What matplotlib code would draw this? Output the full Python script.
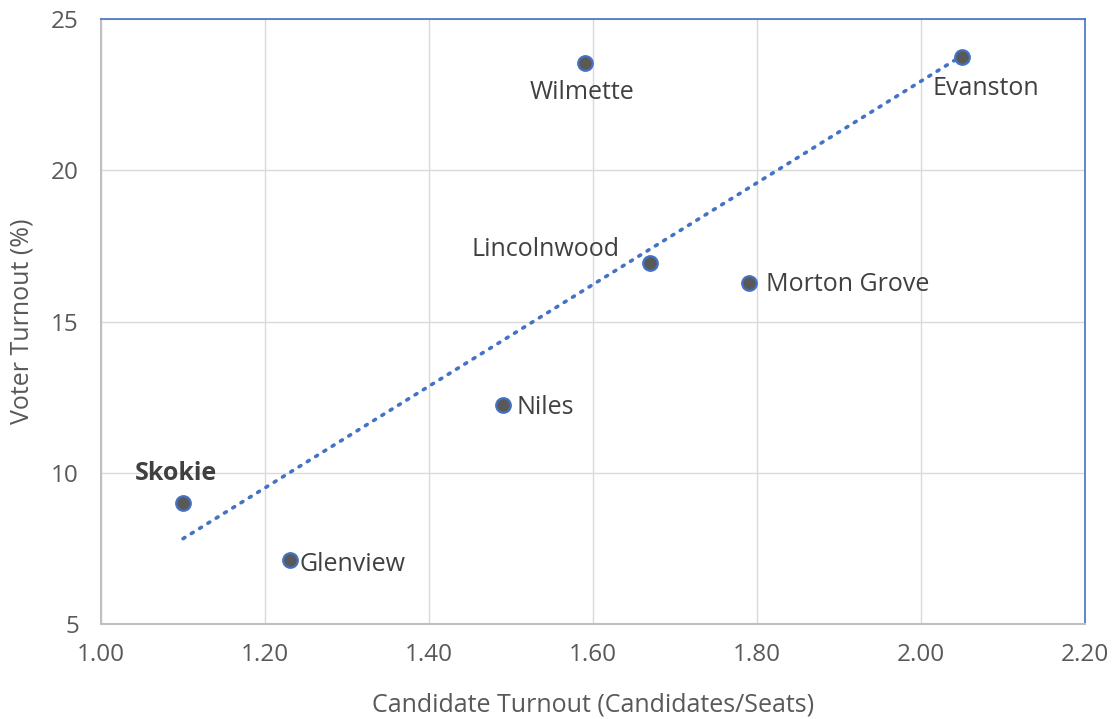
import matplotlib
matplotlib.use("Agg")
import matplotlib.pyplot as plt
import numpy as np

towns = ["Skokie", "Glenview", "Niles", "Wilmette", "Lincolnwood", "Morton Grove", "Evanston"]
candidate_turnout = [1.10, 1.23, 1.49, 1.59, 1.67, 1.79, 2.05]
voter_turnout = [9.0, 7.1, 12.25, 23.55, 16.93, 16.28, 23.75]

x_ticks = [1.00, 1.20, 1.40, 1.60, 1.80, 2.00, 2.20]
y_ticks = [5, 10, 15, 20, 25]

# label placement (offset in points, alignment, weight)
label_pos = {
    "Skokie": ((-5, 12), "center", "bottom", "bold"),
    "Glenview": ((7, -3), "left", "center", "normal"),
    "Niles": ((10, -2), "left", "center", "normal"),
    "Wilmette": ((-2, -12), "center", "top", "normal"),
    "Lincolnwood": ((-22, 10), "right", "center", "normal"),
    "Morton Grove": ((12, -1), "left", "center", "normal"),
    "Evanston": ((-21, -14), "left", "top", "normal"),
}

plt.rcParams['font.family'] = ['Open Sans', 'DejaVu Sans']

fig = plt.figure(figsize=(11.14, 7.19), dpi=100)
ax = fig.add_axes([0.0907, 0.1321, 0.8833, 0.8415])

ax.grid(True, color="#D9D9D9", linewidth=1)
ax.set_axisbelow(True)

# linear trendline
coef = np.polyfit(candidate_turnout, voter_turnout, 1)
xs = np.array([min(candidate_turnout), max(candidate_turnout)])
ax.plot(xs, np.polyval(coef, xs), linestyle=(0, (0.6, 2.1)), color="#4472C4",
        linewidth=2.6, dash_capstyle="round", zorder=2)

ax.scatter(candidate_turnout, voter_turnout, s=110, color="#595959",
           edgecolors="#4472C4", linewidths=1.6, zorder=3)

for name, x, y in zip(towns, candidate_turnout, voter_turnout):
    off, ha, va, weight = label_pos[name]
    ax.annotate(name, (x, y), xytext=off, textcoords="offset points",
                ha=ha, va=va, fontsize=18, color="#404040", fontweight=weight)

ax.set_xlim(1.0, 2.2)
ax.set_ylim(5, 25)
ax.set_xticks(x_ticks)
ax.set_xticklabels([f"{t:.2f}" for t in x_ticks])
ax.set_yticks(y_ticks)
ax.tick_params(length=0, labelsize=17.5, colors="#595959")
ax.tick_params(axis="x", pad=14)
ax.tick_params(axis="y", pad=16)

ax.set_xlabel("Candidate Turnout (Candidates/Seats)", fontsize=18, color="#595959", labelpad=18)
ax.set_ylabel("Voter Turnout (%)", fontsize=18, color="#595959", labelpad=12)

for side in ["left", "bottom"]:
    ax.spines[side].set_color("#BFBFBF")
    ax.spines[side].set_linewidth(1.5)
for side in ["top", "right"]:
    ax.spines[side].set_color("#4472C4")
    ax.spines[side].set_linewidth(1.2)

fig.savefig("out.png", dpi=100)
